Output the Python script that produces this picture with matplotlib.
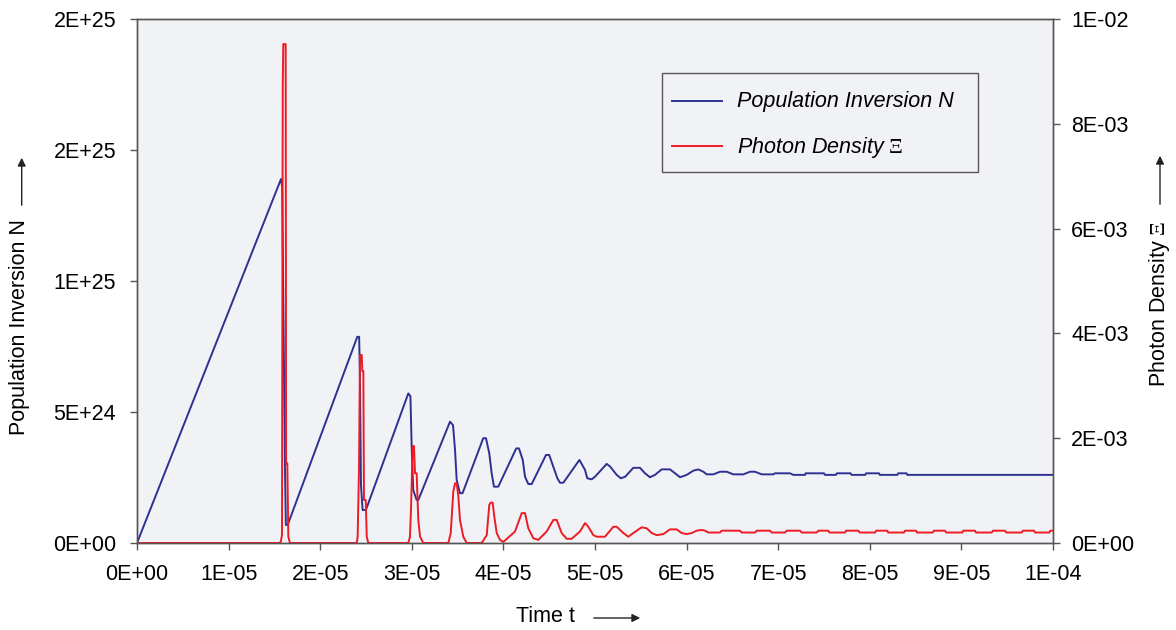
import numpy as np
import matplotlib.pyplot as plt
from matplotlib.lines import Line2D
from matplotlib.patches import Rectangle

plt.rcParams['font.family'] = ['Liberation Sans', 'DejaVu Sans']
plt.rcParams['mathtext.fontset'] = 'custom'
plt.rcParams['mathtext.rm'] = 'Liberation Serif'

# time in units of 1e-5 s, inversion in units of 1e24
t_inv = [0, 1.572, 1.585, 1.615, 1.625, 1.645,
         2.405, 2.425, 2.433, 2.445, 2.463, 2.499,
         2.962, 2.985, 2.999, 3.016, 3.053, 3.071,
         3.417, 3.45, 3.472, 3.49, 3.526, 3.554,
         3.78, 3.81, 3.846, 3.872, 3.897, 3.944,
         4.14, 4.17, 4.211, 4.236, 4.272, 4.309,
         4.465, 4.50, 4.545, 4.589, 4.618, 4.654,
         4.83, 4.891, 4.916, 4.964, 5.0,
         5.128, 5.164, 5.237, 5.281, 5.33,
         5.418, 5.491, 5.546, 5.60, 5.655,
         5.728, 5.819, 5.874, 5.928, 6.001,
         6.073, 6.128, 6.183, 6.219, 6.292, 6.365, 6.438, 6.51, 6.619,
         6.692, 6.747, 6.82, 6.947, 6.965, 7.129, 7.165, 7.293, 7.30,
         7.50, 7.51, 7.63, 7.64, 7.79, 7.80, 7.95, 7.96, 8.10, 8.11,
         8.30, 8.31, 8.40, 8.41, 10.0]
n_inv = [0, 13.89, 13.6, 3.0, 0.69, 0.69,
         7.87, 7.87, 6.55, 2.21, 1.26, 1.26,
         5.71, 5.6, 3.61, 2.02, 1.64, 1.64,
         4.63, 4.50, 3.55, 2.40, 1.90, 1.90,
         4.0, 4.0, 3.42, 2.66, 2.15, 2.15,
         3.61, 3.61, 3.17, 2.53, 2.25, 2.25,
         3.36, 3.36, 2.91, 2.47, 2.30, 2.30,
         3.17, 2.79, 2.47, 2.43, 2.53,
         3.02, 2.92, 2.60, 2.47, 2.53,
         2.87, 2.87, 2.66, 2.51, 2.60,
         2.81, 2.81, 2.66, 2.51, 2.60,
         2.76, 2.81, 2.72, 2.62, 2.62, 2.72, 2.72, 2.62, 2.62,
         2.72, 2.72, 2.62, 2.62, 2.66, 2.66, 2.60, 2.60, 2.66,
         2.66, 2.60, 2.60, 2.66, 2.66, 2.60, 2.60, 2.66, 2.66, 2.60,
         2.60, 2.66, 2.66, 2.60, 2.60]

# photon density in units of 1e-3
t_ph = [0, 1.55, 1.569, 1.583, 1.591, 1.597, 1.623, 1.628, 1.641, 1.652, 1.670,
        2.399, 2.409, 2.424, 2.434, 2.453, 2.460, 2.471, 2.478, 2.497, 2.508, 2.525,
        2.962, 2.980, 2.991, 3.010, 3.024, 3.035, 3.053, 3.071, 3.090, 3.126,
        3.399, 3.425, 3.453, 3.472, 3.490, 3.508, 3.526, 3.562, 3.599,
        3.763, 3.818, 3.846, 3.861, 3.883, 3.901, 3.927, 3.963, 3.999,
        4.127, 4.20, 4.236, 4.272, 4.327, 4.381,
        4.473, 4.545, 4.582, 4.636, 4.691, 4.745,
        4.836, 4.891, 4.927, 4.982, 5.019, 5.109, 5.20, 5.237, 5.31, 5.364,
        5.418, 5.51, 5.565, 5.619, 5.674, 5.746, 5.819, 5.892, 5.946, 6.001,
        6.056, 6.11, 6.165, 6.201, 6.237, 6.365, 6.383, 6.583, 6.601, 6.747,
        6.765, 6.91, 6.929, 7.074, 7.093, 7.238, 7.256, 7.420, 7.438, 7.547,
        7.56, 7.729, 7.74, 7.875, 7.89, 8.057, 8.07, 8.191, 8.20, 8.373,
        8.385, 8.504, 8.515, 8.687, 8.70, 8.821, 8.835, 9.010, 9.02, 9.148,
        9.16, 9.331, 9.345, 9.476, 9.49, 9.658, 9.67, 9.793, 9.805, 9.96,
        9.97, 10.0]
p_ph = [0, 0, 0.02, 0.15, 8.7, 9.52, 9.52, 1.52, 1.52, 0.12, 0,
        0, 0.12, 1.46, 3.59, 3.59, 3.28, 3.28, 0.82, 0.82, 0.12, 0,
        0, 0.12, 0.63, 1.85, 1.85, 1.33, 1.33, 0.44, 0.12, 0,
        0, 0.19, 0.98, 1.14, 1.14, 0.89, 0.44, 0.12, 0,
        0, 0.15, 0.73, 0.77, 0.77, 0.50, 0.19, 0.06, 0.02,
        0.22, 0.57, 0.57, 0.28, 0.09, 0.06,
        0.22, 0.44, 0.44, 0.19, 0.08, 0.08,
        0.22, 0.38, 0.31, 0.15, 0.12, 0.12, 0.31, 0.31, 0.19, 0.12,
        0.19, 0.30, 0.28, 0.19, 0.15, 0.17, 0.26, 0.26, 0.19, 0.17,
        0.19, 0.235, 0.25, 0.235, 0.20, 0.20, 0.235, 0.235, 0.20, 0.20,
        0.235, 0.235, 0.20, 0.20, 0.235, 0.235, 0.20, 0.20, 0.235, 0.235,
        0.20, 0.20, 0.235, 0.235, 0.20, 0.20, 0.235, 0.235, 0.20, 0.20,
        0.235, 0.235, 0.20, 0.20, 0.235, 0.235, 0.20, 0.20, 0.235, 0.235,
        0.20, 0.20, 0.235, 0.235, 0.20, 0.20, 0.235, 0.235, 0.20, 0.20,
        0.235, 0.235]

x_ticks = list(range(11))
x_ticklabels = ['0E+00', '1E-05', '2E-05', '3E-05', '4E-05', '5E-05',
                '6E-05', '7E-05', '8E-05', '9E-05', '1E-04']
n_ticks = [0, 5, 10, 15, 20]
n_ticklabels = ['0E+00', '5E+24', '1E+25', '2E+25', '2E+25']
p_ticks = [0, 2, 4, 6, 8, 10]
p_ticklabels = ['0E+00', '2E-03', '4E-03', '6E-03', '8E-03', '1E-02']
series_names = ['Population Inversion N', 'Photon Density $\\mathrm{\\Xi}$']

blue = '#2e3192'
red = '#ed1c24'
edge = '#555555'
bg = '#f1f2f5'
fs = 15.5
W, H = 1176, 630


def fx(px):
    return px / W


def fy(py):
    return 1 - py / H


fig = plt.figure(figsize=(11.76, 6.3), dpi=100)
ax = fig.add_axes([fx(137), fy(543), 916 / W, 524 / H])
ax.set_facecolor(bg)
ax2 = ax.twinx()

t_inv = np.array(t_inv) * 1e-5
t_ph = np.array(t_ph) * 1e-5
ax.plot(t_inv, np.array(n_inv) * 1e24, color=blue, lw=1.4)
ax2.plot(t_ph, np.array(p_ph) * 1e-3, color=red, lw=1.4)

ax.set_xlim(0, 1e-4)
ax.set_ylim(0, 2e25)
ax2.set_ylim(0, 1e-2)
ax.set_xticks(np.array(x_ticks) * 1e-5)
ax.set_xticklabels(x_ticklabels)
ax.set_yticks(np.array(n_ticks) * 1e24)
ax.set_yticklabels(n_ticklabels)
ax2.set_yticks(np.array(p_ticks) * 1e-3)
ax2.set_yticklabels(p_ticklabels)

for a in (ax, ax2):
    for s in a.spines.values():
        s.set_color(edge)
        s.set_linewidth(1.0)
ax.tick_params(axis='x', direction='out', length=5, width=1, color=edge,
               labelsize=fs, pad=10)
ax.tick_params(axis='y', direction='out', length=5, width=1, color=edge,
               labelsize=fs, pad=10)
ax2.tick_params(axis='y', direction='out', length=5, width=1, color=edge,
                labelsize=fs, pad=8)

# legend box drawn by hand so the padding follows the layout
fig.add_artist(Rectangle((fx(662), fy(172)), 316 / W, 99 / H, transform=fig.transFigure,
                         facecolor=bg, edgecolor=edge, lw=1.0, zorder=5))
for row_y, color, name in zip([101, 146], [blue, red], series_names):
    fig.add_artist(Line2D([fx(672), fx(722)], [fy(row_y), fy(row_y)],
                          transform=fig.transFigure, color=color, lw=1.4, zorder=6))
    fig.text(fx(737), fy(row_y + 1), name, ha='left', va='center', fontsize=fs,
             style='italic', zorder=6)

# axis titles with arrows
fig.text(fx(20), fy(327), 'Population Inversion N', rotation=90,
         ha='center', va='center', fontsize=fs)
fig.text(fx(1160), fy(304), 'Photon Density $\\mathrm{\\Xi}$', rotation=90,
         ha='center', va='center', fontsize=fs)
fig.text(fx(545), fy(617), 'Time t', ha='center', va='center', fontsize=fs)

arrow = dict(arrowstyle='-|>', color='#222222', lw=1, mutation_scale=12)
ax.annotate('', xy=(fx(21.7), fy(155)), xytext=(fx(21.7), fy(208)),
            xycoords='figure fraction', arrowprops=arrow)
ax.annotate('', xy=(fx(1160), fy(153)), xytext=(fx(1160), fy(207)),
            xycoords='figure fraction', arrowprops=arrow)
ax.annotate('', xy=(fx(643), fy(618)), xytext=(fx(591), fy(618)),
            xycoords='figure fraction', arrowprops=arrow)

fig.savefig('out.png', dpi=100)
